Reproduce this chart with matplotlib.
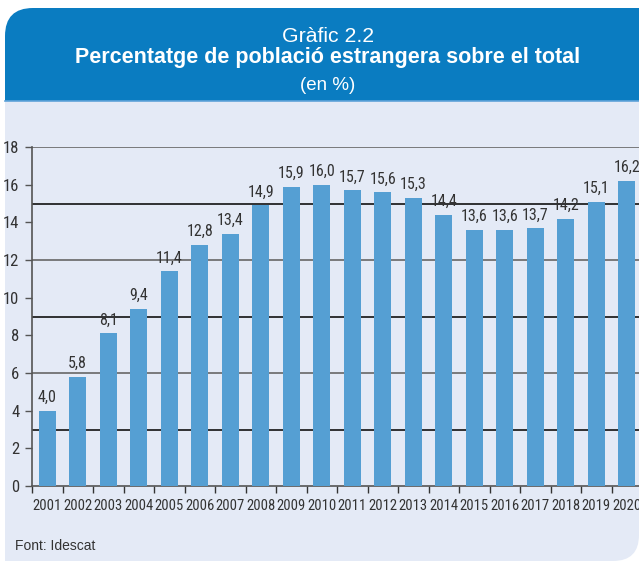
import matplotlib as mpl
mpl.use("Agg")
import matplotlib.pyplot as plt
from matplotlib import font_manager
from matplotlib.patches import FancyBboxPatch, Rectangle

names = {f.name for f in font_manager.fontManager.ttflist}
NARROW = next((n for n in ("Roboto Condensed", "Archivo Narrow", "PT Sans Narrow") if n in names),
              "Liberation Sans")
mpl.rcParams["font.family"] = ["Liberation Sans", "DejaVu Sans"]

years = [str(y) for y in range(2001, 2021)]
pct = [4.0, 5.8, 8.1, 9.4, 11.4, 12.8, 13.4, 14.9, 15.9, 16.0,
       15.7, 15.6, 15.3, 14.4, 13.6, 13.6, 13.7, 14.2, 15.1, 16.2]
yticks = list(range(0, 19, 2))
grid_lines = [3, 6, 9, 12, 15, 18]

W, H = 639, 561
HEAD, PANEL, BAR = "#0a7cc1", "#e4eaf6", "#559fd3"
TXT = "#333333"
CX = 328 / W

fig = plt.figure(figsize=(W / 100, H / 100), dpi=100)

# background decoration in pixel coordinates
bg = fig.add_axes([0, 0, 1, 1]); bg.set_axis_off()
bg.set_xlim(0, W); bg.set_ylim(H, 0)
bg.add_patch(FancyBboxPatch((5, 8), W + 40, 120, boxstyle="round,pad=0,rounding_size=28",
                            fc=HEAD, ec="none"))
bg.add_patch(FancyBboxPatch((5, 101), W - 5, H - 101, boxstyle="round,pad=0,rounding_size=26",
                            fc=PANEL, ec="none"))
bg.add_patch(Rectangle((5, 101), 60, H - 101, fc=PANEL, ec="none"))
bg.add_patch(Rectangle((5, 101), W, 60, fc=PANEL, ec="none"))
bg.plot([5, W], [101, 101], color="#5fa3d9", lw=1.2)

fig.text(CX, 1 - 42 / H, "Gràfic 2.2", ha="center", va="baseline", color="white", fontsize=15.3)
fig.text(CX, 1 - 63 / H, "Percentatge de població estrangera sobre el total", ha="center",
         va="baseline", color="white", fontsize=15.5, fontweight="bold")
fig.text(CX, 1 - 90 / H, "(en %)", ha="center", va="baseline", color="white", fontsize=13.5)
fig.text(15 / W, 1 - 546 / H, "Font: Idescat", ha="left", va="center", color=TXT, fontsize=10)

ax = fig.add_axes([32 / W, (H - 486) / H, 610 / W, 339 / H])
ax.set_facecolor("none")
x = list(range(len(years)))
for g in grid_lines:
    ax.axhline(g, color="#111111" if g % 2 else "#666666", lw=1.2, zorder=1)
ax.bar(x, pct, width=0.56, color=BAR, zorder=3)
for xi, v in zip(x, pct):
    ax.text(xi, v + 0.3, f"{v:.1f}".replace(".", ","), ha="center", va="bottom",
            fontsize=11.5, color=TXT, family=NARROW)

ax.set_xlim(-0.5, len(years) - 0.5)
ax.set_ylim(0, 18)
ax.set_yticks(yticks)
ax.set_yticklabels([str(t) for t in yticks], family=NARROW, fontsize=12, color=TXT)
ax.set_xticks(x)
ax.set_xticklabels(years, family=NARROW, fontsize=10.5, color=TXT)
ax.set_xticks([i - 0.5 for i in x], minor=True)
ax.tick_params(axis="x", which="major", length=0, pad=9)
ax.tick_params(axis="x", which="minor", length=5, width=1, color="#333333")
ax.tick_params(axis="y", length=5, width=1, color="#555555", pad=4)
for s in ("top", "right"):
    ax.spines[s].set_visible(False)
ax.spines["left"].set_color("#555555"); ax.spines["left"].set_linewidth(1.2)
ax.spines["bottom"].set_color("#555555"); ax.spines["bottom"].set_linewidth(1.2)

fig.savefig("out.png", dpi=100)
